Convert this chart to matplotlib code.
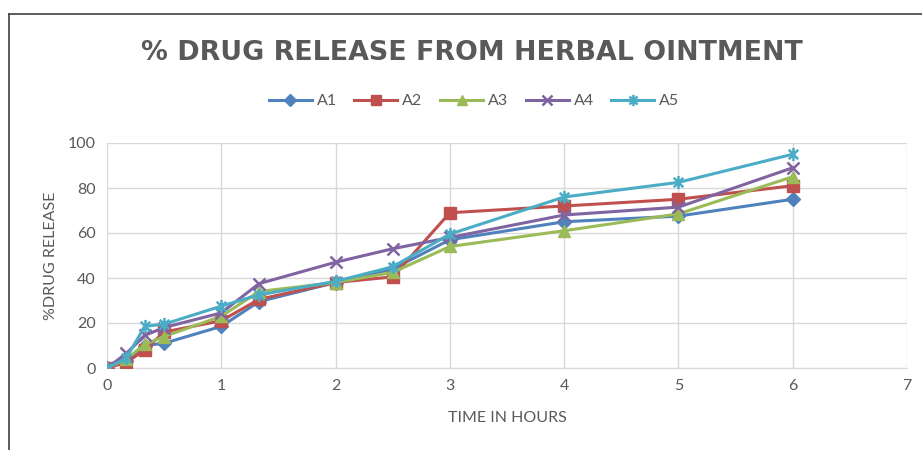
import matplotlib
matplotlib.use("Agg")
import matplotlib.pyplot as plt
from matplotlib.path import Path
from matplotlib.lines import Line2D

plt.rcParams['font.family'] = ['Lato', 'DejaVu Sans']

# Data
time_hours = [0, 0.17, 0.33, 0.5, 1, 1.33, 2, 2.5, 3, 4, 5, 6]
A1 = [0, 3, 10, 11, 18.5, 29.5, 38, 44, 57, 65, 67.5, 75]
A2 = [0, 2.5, 8, 16, 21, 30.5, 38, 40.5, 69, 72, 75, 81]
A3 = [0, 4, 10.5, 14, 23, 34, 38, 42.5, 54, 61, 68.5, 85]
A4 = [0, 6.5, 14.5, 18, 24.5, 37.5, 47, 53, 58, 68, 71.5, 89]
A5 = [0, 4.5, 18.5, 19.5, 27.5, 32.5, 38.5, 45, 59.5, 76, 82.5, 95]
series_names = ["A1", "A2", "A3", "A4", "A5"]
x_ticks = [0, 1, 2, 3, 4, 5, 6, 7]
y_ticks = [0, 20, 40, 60, 80, 100]

colors = ["#4F81BD", "#C0504D", "#9BBB59", "#8064A2", "#4BACC6"]

star = Path([(0, -1), (0, 1), (-0.72, -0.72), (0.72, 0.72), (-0.72, 0.72), (0.72, -0.72)],
            [Path.MOVETO, Path.LINETO, Path.MOVETO, Path.LINETO, Path.MOVETO, Path.LINETO])
markers = ["D", "s", "^", "x", star]
msizes = [7, 8.5, 9, 8.5, 9.5]

fig = plt.figure(figsize=(9.22, 4.5), dpi=100)
ax = fig.add_axes([107/922, 1 - 368/450, 800/922, 225/450])

for name, vals, c, m, ms in zip(series_names, [A1, A2, A3, A4, A5], colors, markers, msizes):
    filled = m in ("D", "s", "^")
    ax.plot(time_hours, vals, color=c, lw=2.2, marker=m, markersize=ms,
            markerfacecolor=c, markeredgecolor=c,
            markeredgewidth=1 if filled else 1.8, label=name, zorder=3)

ax.set_xlim(0, 7)
ax.set_ylim(0, 100)
ax.set_xticks(x_ticks)
ax.set_yticks(y_ticks)
ax.grid(True, color="#D9D9D9", lw=1)
ax.set_axisbelow(True)
for s in ["top", "right", "left"]:
    ax.spines[s].set_visible(False)
ax.spines["bottom"].set_color("#D9D9D9")
ax.tick_params(length=0, labelsize=11.5, colors="#595959", pad=8)
ax.set_xlabel("TIME IN HOURS", fontsize=11.5, color="#595959", labelpad=13)
ax.set_ylabel("%DRUG RELEASE", fontsize=11.5, color="#595959", labelpad=7)

fig.text(472/922, 1 - 53/450, "% DRUG RELEASE FROM HERBAL OINTMENT", ha="center", va="center",
         fontsize=19.4, fontweight="bold", color="#595959", family=["DejaVu Sans"])

leg = ax.legend(loc="center", bbox_to_anchor=(474/922, 1 - 101/450), bbox_transform=fig.transFigure,
                ncol=5, frameon=False, fontsize=11.5, handlelength=2.7, columnspacing=1.1,
                handletextpad=0.3, labelcolor="#595959", markerscale=0.85)

# chart border (left and top)
fig.add_artist(Line2D([9/922, 9/922], [0, 1 - 14/450], transform=fig.transFigure, color="#404040", lw=1.2))
fig.add_artist(Line2D([9/922, 1], [1 - 14/450, 1 - 14/450], transform=fig.transFigure, color="#404040", lw=1.2))

fig.savefig("out.png", dpi=100)
